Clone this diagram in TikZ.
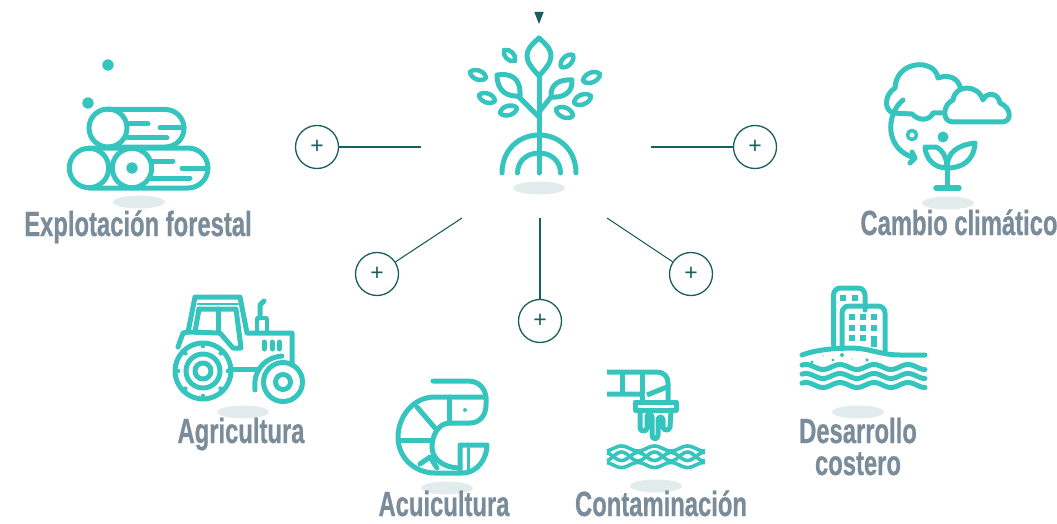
\documentclass[tikz,border=0pt]{standalone}
\usepackage{fontspec}
\usepackage{xcolor}
\usetikzlibrary{positioning,calc}
\newfontfamily\condfont[BoldFeatures={FakeStretch=0.68,FakeBold=0.6}]{Liberation Sans}
\newfontfamily\plusfont{Liberation Sans}
\definecolor{dfteal}{RGB}{54,196,190}
\definecolor{dfdark}{RGB}{26,94,94}
\definecolor{dfgrey}{RGB}{122,139,153}
\definecolor{dfshadow}{RGB}{226,236,236}
\tikzstyle{iconline} = [line width=5pt, color=dfteal, line cap=round, line join=round]
\tikzstyle{icondot} = [fill=dfteal, draw=none]
\tikzstyle{floorshadow} = [fill=dfshadow, draw=none]
\tikzstyle{linkline} = [line width=1.1pt, color=dfdark]
\tikzstyle{plusnode} = [circle, minimum size=43pt, inner sep=0pt, draw=dfdark, line width=1.3pt, text=dfdark, font=\plusfont\fontsize{23}{23}\selectfont]
\tikzstyle{labeltext} = [anchor=base, inner sep=0pt, text=dfgrey, font=\condfont\bfseries\fontsize{35}{32}\selectfont]
\begin{document}
\begin{tikzpicture}[x=1pt,y=-1pt]
\useasboundingbox (0,0) rectangle (1057,524);

% Floor shadows
\foreach \cx/\cy in {539/188,139/202,948/203,243/412,447/488,656/486,858/412}
  \fill[floorshadow] (\cx,\cy) ellipse [x radius=26pt, y radius=6.5pt];

% Tree
\fill[dfdark] (534.3,12) -- (543.7,12) -- (539,24) -- cycle;
\draw[iconline] (539,38) .. controls (530,46) and (527,50) .. (527,56) .. controls (527,63) and (533,69) .. (539,76) .. controls (545,69) and (551,63) .. (551,56) .. controls (551,50) and (548,46) .. (539,38) -- cycle;
\draw[iconline] (539,76) -- (539,173);
\draw[iconline] (539,117) -- (518,96);
\draw[iconline] (539,112) -- (551,97);
\draw[iconline] (497,75) .. controls (510,73) and (521,77) .. (520,96) .. controls (508,97) and (497,92) .. (497,75) -- cycle;
\draw[iconline] (572,80) .. controls (560,79) and (550,84) .. (551,97) .. controls (563,98) and (573,93) .. (572,80) -- cycle;
\foreach \ax/\ay/\bx/\by in {504/50/515/61,573/55/561/67,470/72/486/78,600/74/583/81,479/95/495/101,591/96/574/103,500/113/517/108,556/109/573/116}
  \draw[iconline, line width=4.5pt] (\ax,\ay) to[bend left=65] (\bx,\by) to[bend left=65] (\ax,\ay);
\draw[iconline] (502,173) .. controls (502,151) and (518,135) .. (539,135) .. controls (560,135) and (576,151) .. (576,173);
\draw[iconline] (517.5,173) .. controls (517.5,161) and (527,153) .. (539,153) .. controls (551,153) and (560.5,161) .. (560.5,173);

% Plus buttons
\node[plusnode] (plusforest) at (317,147) {+};
\node[plusnode] (plusfarm) at (377,274) {+};
\node[plusnode] (plusshrimp) at (540,321) {+};
\node[plusnode] (pluswaste) at (691,274) {+};
\node[plusnode] (plusclimate) at (755,147) {+};
\coordinate (endforest) at (421,147);
\coordinate (endfarm) at (462,218);
\coordinate (endshrimp) at (540,218);
\coordinate (endwaste) at (607,218);
\coordinate (endclimate) at (651,147);
\draw[linkline] (plusforest) -- (endforest);
\draw[linkline] (plusfarm) -- (endfarm);
\draw[linkline] (plusshrimp) -- (endshrimp);
\draw[linkline] (pluswaste) -- (endwaste);
\draw[linkline] (plusclimate) -- (endclimate);

% Logs
\fill[icondot] (108,65) circle (5.7pt);
\fill[icondot] (88,103) circle (5.7pt);
\draw[iconline, rounded corners=18.7pt] (108,109.5) -- (184,109.5) -- (184,147) -- (108,147);
\draw[iconline] (108,128) circle (19pt);
\draw[iconline] (129,124) -- (148,124);
\draw[iconline] (160,128) -- (184,128);
\draw[iconline] (128,138) -- (167,138);
\draw[iconline, rounded corners=20pt] (89,148) -- (208,148) -- (208,188) -- (89,188);
\draw[iconline] (89,168) circle (19.7pt);
\draw[iconline] (132,168) circle (19.7pt);
\fill[icondot] (132,168) circle (5.7pt);
\draw[iconline] (153,161) -- (173,161);
\draw[iconline] (182,168) -- (205,168);
\draw[iconline] (150,178) -- (190,178);

% Cloud and seedling
\draw[iconline] (942,113) -- (933,113) .. controls (930,120) and (920,122) .. (912,114) -- (893,113) .. controls (884,110) and (884,95) .. (895,88) .. controls (896,60) and (935,58) .. (938,78) .. controls (948,74) and (958,78) .. (960,87);
\draw[iconline] (953,122) -- (1002,122) .. controls (1012,122) and (1012,108) .. (1000,103) .. controls (998,92) and (986,92) .. (983,100) .. controls (978,84) and (955,84) .. (953,100) .. controls (943,104) and (941,122) .. (953,122) -- cycle;
\draw[iconline] (903,100) .. controls (885,115) and (885,150) .. (915,158);
\draw[iconline] (912,152) -- (915,158) -- (910,163);
\draw[iconline, line width=3.5pt] (912,135) circle (4.5pt);
\fill[icondot] (943,137) circle (5.5pt);
\draw[iconline] (947,166) -- (947,188);
\draw[iconline, line width=5.5pt] (936,188) -- (959,188);
\draw[iconline] (925,147) -- (936,147) .. controls (943,150) and (947,158) .. (947,168) .. controls (935,168) and (926,160) .. (925,147) -- cycle;
\draw[iconline] (975,143) .. controls (958,145) and (947,152) .. (947,168) .. controls (963,168) and (974,160) .. (975,143) -- cycle;

% Tractor
\draw[iconline] (178,347) -- (183,333) -- (188,332) -- (195,297) -- (240,297) -- (247,333) -- (292,333) -- (292,365);
\draw[iconline, line width=2.5pt] (198,304) -- (238,304);
\draw[iconline] (199,309) -- (236,309) -- (241,348) -- (233,348) -- (220,333) -- (188,332);
\draw[iconline] (199,309) -- (195,332);
\draw[iconline] (218,309) -- (218,333);
\draw[iconline] (260,318) -- (260,305) -- (264,301);
\draw[iconline, line width=3.5pt] (257,333) -- (257,318) -- (267,318) -- (267,333);
\foreach \vx in {264,272,279}
  \draw[iconline, line width=5pt] (\vx,342) -- (\vx,349);
\draw[iconline] (255,390) .. controls (253,373) and (262,358) .. (282,356);
\draw[iconline] (230,369) -- (258,369);
\draw[iconline] (203,371) circle (28pt);
\draw[iconline] (203,371) circle (17pt);
\draw[iconline] (203,371) circle (8pt);
\foreach \ang in {0,45,...,315}
  \fill[icondot] ($(203,371)+(\ang:25pt)$) circle (2.3pt);
\draw[iconline] (283,382) circle (19.5pt);
\draw[iconline] (283,382) circle (7.5pt);

% Shrimp
\draw[iconline] (433,381) -- (468,381) .. controls (480,381) and (486,390) .. (486,399) -- (486,405) .. controls (486,415) and (480,423) .. (470,423) -- (450,423) .. controls (438,423) and (432,436) .. (432,447) .. controls (432,460) and (445,468) .. (460,468);
\draw[iconline] (486,397) -- (435,397) .. controls (412,397) and (398,418) .. (398,437) .. controls (398,458) and (415,473) .. (435,473) -- (462,473) .. controls (478,473) and (487,458) .. (487,445) -- (460,445) -- (460,469);
\draw[iconline] (449,397) -- (449,423);
\draw[iconline] (417,407) -- (435,428);
\draw[iconline] (400,440) -- (432,440);
\draw[iconline] (420,464) -- (430,457) -- (437,468);
\draw[iconline, line width=3pt] (468,448) -- (468,470);
\fill[icondot] (465,410) circle (2pt);

% Pipe and water
\draw[iconline, line cap=butt] (607,372) -- (657,372) .. controls (664,372) and (668,377) .. (668,383) -- (668,402);
\draw[iconline, line cap=butt] (607,394) -- (642,394) -- (643,402);
\draw[iconline, line cap=butt] (647,395) -- (667,387);
\draw[iconline, line cap=butt] (622,372) -- (622,394);
\draw[iconline, line cap=butt] (642,372) -- (642,394);
\draw[iconline] (635,402) rectangle (676,410);
\draw[iconline] (640,410) -- (640,428) .. controls (640,432) and (647,432) .. (647,428) -- (647,417) .. controls (647,413) and (652,413) .. (652,417) -- (652,435) .. controls (652,440) and (658,440) .. (658,435) -- (658,420) .. controls (658,416) and (663,416) .. (663,420) -- (663,427) .. controls (663,431) and (670,431) .. (670,427) -- (671,410);
\foreach \wb/\wa in {448.5/2.5,456.5/-4,456.5/4.5,465/-2.5}
  \draw[iconline, line width=3.6pt, line cap=butt] plot[domain=607:705,samples=70] (\x,{\wb+\wa*cos(10.909*(\x-638))});

% Buildings and coast
\draw[iconline, rounded corners=7pt] (833.5,345) -- (833.5,288) -- (865,288) -- (865,310);
\draw[iconline, rounded corners=7pt] (842,349) -- (842,306) -- (885,306) -- (885,352);
\foreach \wx in {840,852}
  \fill[icondot] (\wx,295) rectangle +(5.5,5.5);
\foreach \wx in {849,860,871}
  \foreach \wy in {314,325}
    \fill[icondot] (\wx,\wy) rectangle +(6,6);
\foreach \wx in {849,860}
  \fill[icondot] (\wx,335) rectangle +(6,6);
\fill[icondot] (871,336) rectangle (877,347);
\draw[iconline, line width=5pt] (802,355) .. controls (815,350) and (835,348) .. (850,348) .. controls (870,348) and (880,355) .. (900,355) -- (925,355);
\foreach \dx/\dy/\dr in {812/362/1.6,823/356/0.6,833/360/1.7,842/355/2,852/359/0.7,867/360/1.8}
  \fill[icondot] (\dx,\dy) circle (\dr pt);
\foreach \wy in {367,376,385}
  \draw[iconline, line width=5pt] plot[domain=802:925,samples=80] (\x,{\wy+2.5*cos(10.588*(\x-823))});

% Labels
\node[labeltext] (forestlabel) at (138,236) {Explotación forestal};
\node[labeltext] (climatelabel) at (959,235) {Cambio climático};
\node[labeltext] (farmlabel) at (241,443) {Agricultura};
\node[labeltext] (shrimplabel) at (444,516) {Acuicultura};
\node[labeltext] (wastelabel) at (661,516) {Contaminación};
\node[labeltext] (coastlabel) at (858,443) {Desarrollo};
\node[labeltext] (coastlabeltwo) at (858,475) {costero};
\end{tikzpicture}
\end{document}
